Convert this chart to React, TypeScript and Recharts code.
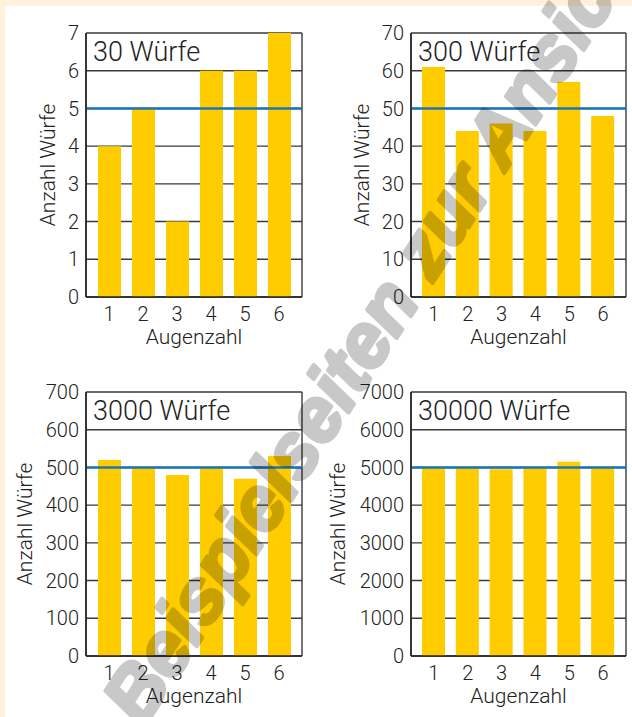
import {
  BarChart,
  Bar,
  XAxis,
  YAxis,
  CartesianGrid,
  ReferenceLine,
  ReferenceArea,
} from 'recharts';

const augenzahl = ['1', '2', '3', '4', '5', '6'];

const wuerfe30 = [4, 5, 2, 6, 6, 7];
const wuerfe300 = [61, 44, 46, 44, 57, 48];
const wuerfe3000 = [520, 500, 480, 500, 470, 530];
const wuerfe30000 = [5000, 5000, 4950, 5000, 5150, 5000];

const ticks30 = [0, 1, 2, 3, 4, 5, 6, 7];
const ticks300 = [0, 10, 20, 30, 40, 50, 60, 70];
const ticks3000 = [0, 100, 200, 300, 400, 500, 600, 700];
const ticks30000 = [0, 1000, 2000, 3000, 4000, 5000, 6000, 7000];

const erwartet = [5, 50, 500, 5000];
const titel = ['30 Würfe', '300 Würfe', '3000 Würfe', '30000 Würfe'];

const FONT = 'Roboto, sans-serif';
const GELB = '#ffcc00';
const BLAU = '#1b75bb';

interface PanelProps {
  werte: number[];
  ticks: number[];
  erwartung: number;
  titel: string;
  left: number;
  top: number;
  plotLeft: number;
  plotRight: number;
  plotTop: number;
  plotBottom: number;
  labelX: number;
}

function Panel({
  werte,
  ticks,
  erwartung,
  titel,
  left,
  top,
  plotLeft,
  plotRight,
  plotTop,
  plotBottom,
  labelX,
}: PanelProps) {
  const data = augenzahl.map((a, i) => ({ augenzahl: a, anzahl: werte[i] }));
  const max = ticks[ticks.length - 1];
  const xAxisHeight = 53;
  const textStyle = { fill: '#222', fontFamily: FONT, fontWeight: 300, fontSize: 20 };

  return (
    <div style={{ position: 'absolute', left, top }}>
      <BarChart
        width={316}
        height={360}
        data={data}
        margin={{
          top: plotTop,
          right: 316 - plotRight,
          bottom: 360 - plotBottom - xAxisHeight,
          left: 0,
        }}
      >
        <CartesianGrid
          stroke="#3a3a3a"
          strokeWidth={1.4}
          verticalPoints={[plotLeft, plotRight]}
        />
        <XAxis
          dataKey="augenzahl"
          height={xAxisHeight}
          padding={{ left: 6, right: 6 }}
          axisLine={{ stroke: '#222', strokeWidth: 1.5 }}
          tickLine={false}
          tickSize={4}
          tickMargin={6}
          tick={textStyle}
          label={{ value: 'Augenzahl', position: 'insideBottom', offset: 6, ...textStyle, fontSize: 21 }}
        />
        <YAxis
          width={plotLeft}
          domain={[0, max]}
          ticks={ticks}
          interval={0}
          axisLine={{ stroke: '#222', strokeWidth: 1.5 }}
          tickLine={false}
          tickSize={3}
          tickMargin={4}
          tick={textStyle}
          label={{
            value: 'Anzahl Würfe',
            angle: -90,
            position: 'center',
            dx: labelX - plotLeft / 2,
            ...textStyle,
            fontSize: 21,
          }}
        />
        <ReferenceArea
          y1={ticks[ticks.length - 2]}
          y2={max}
          fill="#fff"
          fillOpacity={0}
          stroke="none"
          label={{ value: titel, position: 'insideLeft', offset: 1, ...textStyle, fontSize: 27 }}
        />
        <Bar dataKey="anzahl" fill={GELB} barSize={23} isAnimationActive={false} />
        <ReferenceLine y={erwartung} stroke={BLAU} strokeWidth={2.6} />
      </BarChart>
    </div>
  );
}

export default function App() {
  return (
    <div
      style={{
        position: 'absolute',
        left: 0,
        top: 0,
        width: 632,
        height: 717,
        background: '#fff',
        overflow: 'hidden',
      }}
    >
      <div style={{ position: 'absolute', left: 0, top: 0, width: 632, height: 6, background: '#fef2da' }} />
      <div style={{ position: 'absolute', left: 0, top: 0, width: 5, height: 717, background: '#fef2da' }} />

      <Panel werte={wuerfe30} ticks={ticks30} erwartung={erwartet[0]} titel={titel[0]}
        left={0} top={0} plotLeft={86} plotRight={302} plotTop={33} plotBottom={297} labelX={48} />
      <Panel werte={wuerfe300} ticks={ticks300} erwartung={erwartet[1]} titel={titel[1]}
        left={316} top={0} plotLeft={95} plotRight={310} plotTop={33} plotBottom={297} labelX={46} />
      <Panel werte={wuerfe3000} ticks={ticks3000} erwartung={erwartet[2]} titel={titel[2]}
        left={0} top={360} plotLeft={86} plotRight={302} plotTop={32} plotBottom={296} labelX={25} />
      <Panel werte={wuerfe30000} ticks={ticks30000} erwartung={erwartet[3]} titel={titel[3]}
        left={316} top={360} plotLeft={95} plotRight={310} plotTop={32} plotBottom={296} labelX={22} />

      {/* Wasserzeichen */}
      <svg
        width={632}
        height={717}
        style={{ position: 'absolute', left: 0, top: 0, pointerEvents: 'none' }}
      >
        <g opacity={0.21}>
          <text
            transform="translate(143 729) rotate(-57)"
            fontFamily="'Liberation Sans', Arial, sans-serif"
            fontWeight="bold"
            fontStyle="italic"
            fontSize={76}
            fill="#000"
            stroke="#000"
            strokeWidth={4}
            strokeLinejoin="round"
          >
            Beispielseiten zur Ansicht
          </text>
        </g>
      </svg>
    </div>
  );
}
